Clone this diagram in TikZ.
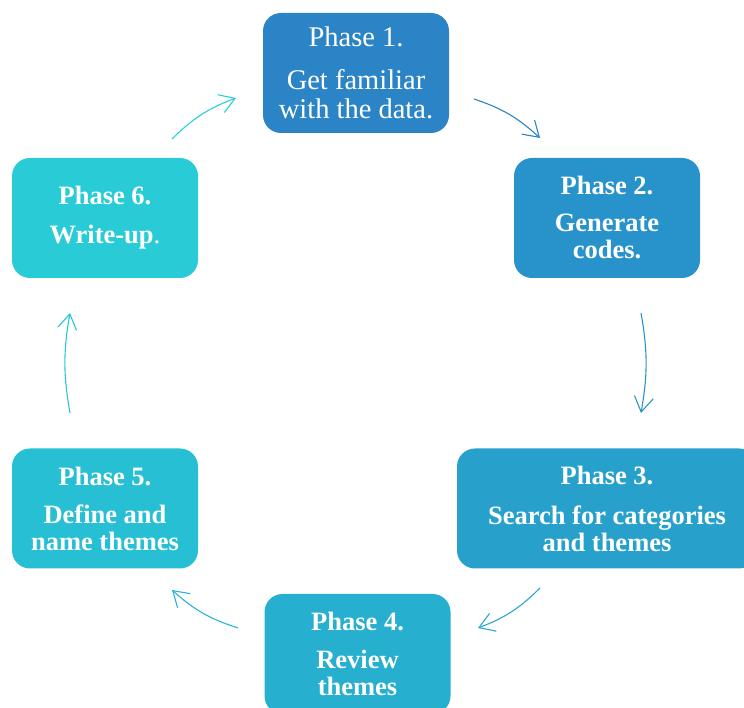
\documentclass[tikz,border=0pt]{standalone}
\usepackage{fontspec}
\setmainfont{Liberation Serif}
\usetikzlibrary{arrows.meta}
\definecolor{c1}{HTML}{2A84C6}
\definecolor{c2}{HTML}{2892CB}
\definecolor{c3}{HTML}{27A1CC}
\definecolor{c4}{HTML}{27AFD0}
\definecolor{c5}{HTML}{27BFD3}
\definecolor{c6}{HTML}{29CCD6}
\definecolor{a1}{HTML}{2A84C6}
\definecolor{a2}{HTML}{2A93CC}
\definecolor{a3}{HTML}{29A7D0}
\definecolor{a4}{HTML}{28B5D3}
\definecolor{a5}{HTML}{27C5D8}
\definecolor{a6}{HTML}{29CFD9}
\tikzset{
  phasebox/.style={rounded corners=18pt, minimum width=186pt, minimum height=120pt,
    inner sep=0pt, align=center, text=white},
  regtext/.style={font=\fontsize{28.5pt}{29pt}\selectfont},
  boldtext/.style={font=\fontsize{26.5pt}{27pt}\selectfont\bfseries},
  flow/.style={line width=1.1pt, -{Straight Barb[length=15pt,width=19pt,line width=1.1pt]}}
}
\begin{document}
\begin{tikzpicture}[x=1pt,y=1pt]
\useasboundingbox (0,0) rectangle (744,708);
\clip (0,0) rectangle (744,708);
\node[phasebox, regtext, fill=c1] (p1) at (356,635) {Phase 1.\\[14pt]Get familiar\\with the data.};
\node[phasebox, boldtext, fill=c2] (p2) at (607,490) {Phase 2.\\[10pt]Generate\\codes.};
\node[phasebox, boldtext, fill=c3, minimum width=300pt] (p3) at (607,199.5) {Phase 3.\\[13pt]Search for categories\\and themes};
\node[phasebox, boldtext, fill=c4] (p4) at (357.5,54) {Phase 4.\\[11pt]Review\\themes};
\node[phasebox, boldtext, fill=c5] (p5) at (105,199.5) {Phase 5.\\[11pt]Define and\\name themes};
\node[phasebox, boldtext, fill=c6] (p6) at (105,490) {Phase 6.\\[12pt]Write-up{\mdseries.}};
\coordinate (s1) at (474,609); \coordinate (e1) at (540,570);
\coordinate (s2) at (641,395); \coordinate (e2) at (641,295);
\coordinate (s3) at (540,120); \coordinate (e3) at (478,80);
\coordinate (s4) at (238,80);  \coordinate (e4) at (172,118);
\coordinate (s5) at (70,295);  \coordinate (e5) at (70,395);
\coordinate (s6) at (172,569); \coordinate (e6) at (236,610);
\draw[flow, a1] (s1) to[bend left=12] (e1);
\draw[flow, a2] (s2) to[bend left=10] (e2);
\draw[flow, a3] (s3) to[bend left=12] (e3);
\draw[flow, a4] (s4) to[bend left=12] (e4);
\draw[flow, a5] (s5) to[bend left=10] (e5);
\draw[flow, a6] (s6) to[bend left=12] (e6);
\end{tikzpicture}
\end{document}
